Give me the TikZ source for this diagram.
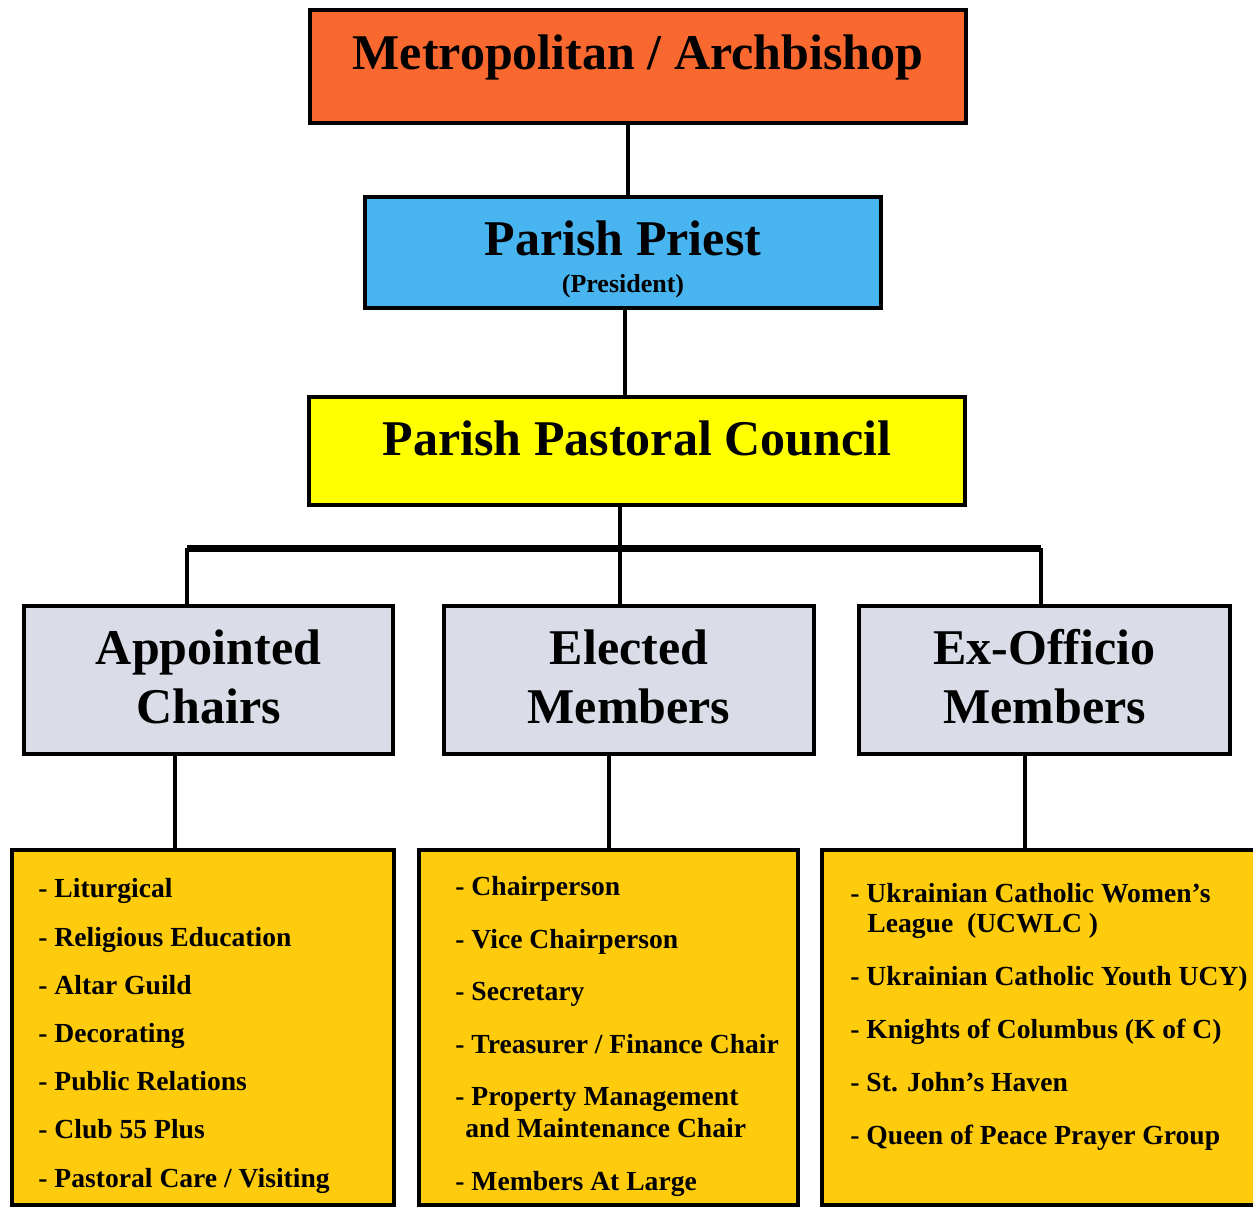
\documentclass[tikz,border=0pt]{standalone}
\usepackage{fontspec}
\setmainfont{Liberation Serif}
\usetikzlibrary{positioning}
\definecolor{metroorange}{RGB}{249,104,46}
\definecolor{priestblue}{RGB}{72,180,240}
\definecolor{councilyellow}{RGB}{255,255,0}
\definecolor{groupgrey}{RGB}{218,220,232}
\definecolor{listgold}{RGB}{254,204,12}

\begin{document}
\begin{tikzpicture}[
	box/.style={draw, line width=2.2pt, inner sep=0pt},
	link/.style={line width=2pt},
	bar/.style={line width=3.5pt},
	bigtitle/.style={anchor=base, inner sep=0pt, font=\fontsize{25}{30}\selectfont\bfseries},
	smalltitle/.style={anchor=base, inner sep=0pt, font=\fontsize{13}{15}\selectfont\bfseries},
	listtext/.style={anchor=north west, inner sep=0pt, align=left},
]
	\fill[white] (0,0) rectangle (626.5pt,-605pt);
	\useasboundingbox (0,0) rectangle (626.5pt,-605pt);

	\node[box, fill=metroorange, minimum width=327.8pt, minimum height=56.3pt] (metro) at (319pt,-33.25pt) {};
	\node[box, fill=priestblue, minimum width=257.8pt, minimum height=55.3pt, below=35pt of metro, xshift=-7.5pt] (priest) {};
	\node[box, fill=councilyellow, minimum width=327.8pt, minimum height=53.8pt, below=42.5pt of priest, xshift=7pt] (council) {};

	\node[box, fill=groupgrey, minimum width=184.8pt, minimum height=73.8pt, below=48.5pt of council, xshift=-4pt] (elected) {};
	\node[box, fill=groupgrey, minimum width=184.3pt, minimum height=73.8pt, left=23.5pt of elected] (appointed) {};
	\node[box, fill=groupgrey, minimum width=185.3pt, minimum height=73.8pt, right=20.5pt of elected] (exofficio) {};

	\node[box, fill=listgold, minimum width=189.3pt, minimum height=177.3pt, below=46pt of elected, xshift=-10.25pt] (goldM) {};
	\node[box, fill=listgold, minimum width=190.8pt, minimum height=177.3pt, left=10.5pt of goldM] (goldL) {};
	\node[box, fill=listgold, minimum width=217.8pt, minimum height=177.3pt, right=10pt of goldM] (goldR) {};

	% titles
	\node[bigtitle] (metrotext) at ([yshift=-1.25pt]metro.center) {Metropolitan / Archbishop};
	\node[bigtitle] (priesttext) at ([yshift=-1.25pt]priest.center) {Parish Priest};
	\node[smalltitle] (presidenttext) at ([yshift=-19.75pt]priest.center) {(President)};
	\node[bigtitle] (counciltext) at ([yshift=-2pt]council.center) {Parish Pastoral Council};
	\node[bigtitle] (appointedtext) at ([yshift=7.75pt]appointed.center) {Appointed};
	\node[bigtitle] (chairstext) at ([yshift=-21.75pt]appointed.center) {Chairs};
	\node[bigtitle] (electedtext) at ([yshift=7.75pt]elected.center) {Elected};
	\node[bigtitle] (memberstext) at ([yshift=-21.75pt]elected.center) {Members};
	\node[bigtitle] (exofficiotext) at ([yshift=7.75pt]exofficio.center) {Ex-Officio};
	\node[bigtitle] (exmemberstext) at ([yshift=-21.75pt]exofficio.center) {Members};

	% lists
	\node[listtext, font=\fontsize{13.8}{24.1}\selectfont\bfseries] (chairslist) at ([xshift=14pt, yshift=-15.2pt]goldL.north west)
		{- Liturgical\\- Religious Education\\- Altar Guild\\- Decorating\\- Public Relations\\- Club 55 Plus\\- Pastoral Care / Visiting};
	\node[listtext, font=\fontsize{13.8}{16}\selectfont\bfseries] (electedlist) at ([xshift=19pt, yshift=-14.2pt]goldM.north west)
		{- Chairperson\\[10.25pt]- Vice Chairperson\\[10.25pt]- Secretary\\[10.25pt]- Treasurer / Finance Chair\\[10.25pt]- Property Management\\\hspace*{5pt}and Maintenance Chair\\[10.25pt]- Members At Large};
	\node[listtext, font=\fontsize{13.8}{15}\selectfont\bfseries] (exofficiolist) at ([xshift=15pt, yshift=-17.7pt]goldR.north west)
		{- Ukrainian Catholic Women’s\\\hspace*{8.5pt}League\ \ (UCWLC\ )\\[11.5pt]- Ukrainian Catholic Youth UCY)\\[11.5pt]- Knights of Columbus (K of C)\\[11.5pt]- St. John’s Haven\\[11.5pt]- Queen of Peace Prayer Group};

	% connectors
	\draw[link] ([xshift=2.5pt]priest.north) -- ([xshift=2.5pt]priest.north |- metro.south);
	\draw[link] ([xshift=1pt]priest.south) -- ([xshift=1pt]priest.south |- council.north);
	\coordinate (hub) at ([xshift=-8.5pt, yshift=-20.5pt]council.south);
	\coordinate[xshift=-10.75pt] (barL) at (hub -| appointed.north);
	\coordinate[xshift=-1.75pt] (barR) at (hub -| exofficio.north);
	\draw[link] ([xshift=-8.5pt]council.south) -- (hub |- elected.north);
	\draw[bar] (barL) -- (barR);
	\draw[link] (barL) -- (barL |- appointed.north);
	\draw[link] (barR) -- (barR |- exofficio.north);
	\draw[link] ([xshift=-16.75pt]appointed.south) -- ([xshift=-16.75pt]appointed.south |- goldL.north);
	\draw[link] (goldM.north |- elected.south) -- (goldM.north);
	\draw[link] ([xshift=-9.75pt]exofficio.south) -- ([xshift=-9.75pt]exofficio.south |- goldR.north);
\end{tikzpicture}
\end{document}
